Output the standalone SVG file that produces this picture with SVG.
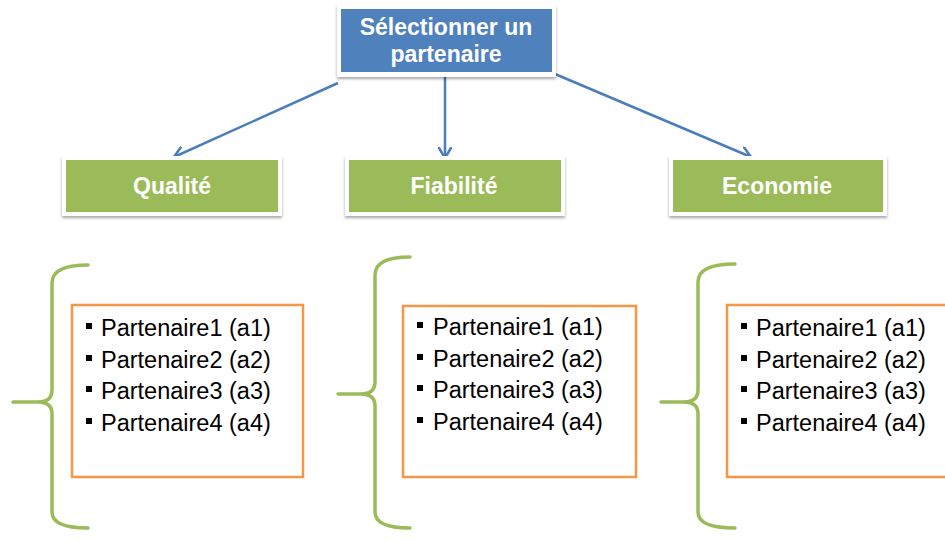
<svg xmlns="http://www.w3.org/2000/svg" width="945" height="541" viewBox="0 0 945 541">
<defs>
<style>
.frame{fill:#ffffff;filter:url(#sh)}
.blue{fill:#4f81bd}
.green{fill:#9bbb59}
.hdr{font-family:"Liberation Sans",Arial,sans-serif;font-weight:bold;font-size:23px;fill:#ffffff;text-anchor:middle}
.conn{stroke:#4a7ebb;stroke-width:2.5;fill:none;marker-end:url(#ah)}
.brace{stroke:#9bbb59;stroke-width:3.5;fill:none;stroke-linecap:round;stroke-linejoin:round}
.list{fill:#ffffff;stroke:#f79646;stroke-width:2.5}
.item{font-family:"Liberation Sans",Arial,sans-serif;font-size:23.5px;fill:#000000}
.bul{fill:#000000}
</style>
<filter id="sh" x="-10%" y="-20%" width="120%" height="150%">
<feDropShadow dx="0" dy="2" stdDeviation="1.5" flood-color="#000000" flood-opacity="0.35"/>
</filter>
<marker id="ah" viewBox="0 0 12 14" refX="11" refY="7" markerWidth="12" markerHeight="14" markerUnits="userSpaceOnUse" orient="auto">
<path d="M1,1 L11,7 L1,13" fill="none" stroke="#4a7ebb" stroke-width="2.5" stroke-linecap="round" stroke-linejoin="round"/>
</marker>
</defs>
<rect width="945" height="541" fill="#ffffff"/>

<g id="connectors">
<line class="conn" x1="338" y1="83" x2="174" y2="157"/>
<line class="conn" x1="445" y1="75" x2="445" y2="158"/>
<line class="conn" x1="555" y1="74" x2="751" y2="157"/>
</g>

<g id="root">
<rect class="frame" x="337" y="5" width="219" height="72"/>
<rect class="blue" x="341" y="9" width="211" height="63"/>
<text class="hdr" x="446" y="35">Sélectionner un</text>
<text class="hdr" x="446" y="62">partenaire</text>
</g>

<g id="qualite">
<rect class="frame" x="62" y="156" width="220" height="60"/>
<rect class="green" x="66" y="160" width="212" height="52"/>
<text class="hdr" x="172" y="194">Qualité</text>
</g>
<g id="fiabilite">
<rect class="frame" x="345" y="156" width="220" height="60"/>
<rect class="green" x="349" y="160" width="212" height="52"/>
<text class="hdr" x="454" y="194">Fiabilité</text>
</g>
<g id="economie">
<rect class="frame" x="669" y="156" width="218" height="60"/>
<rect class="green" x="673" y="160" width="210" height="52"/>
<text class="hdr" x="777" y="194">Economie</text>
</g>

<g id="brace1">
<path class="brace" d="M88,265 Q52,265 52,283 L52,390 Q52,402 38,402 L13,402 M38,402 Q52,402 52,414 L52,512 Q52,528 88,528"/>
</g>
<g id="list1">
<rect class="list" x="72" y="305" width="231" height="172"/>
<rect class="bul" x="86" y="323" width="6" height="6"/>
<rect class="bul" x="86" y="355" width="6" height="6"/>
<rect class="bul" x="86" y="386" width="6" height="6"/>
<rect class="bul" x="86" y="418" width="6" height="6"/>
<text class="item" x="101" y="336">Partenaire1 (a1)</text>
<text class="item" x="101" y="368">Partenaire2 (a2)</text>
<text class="item" x="101" y="399">Partenaire3 (a3)</text>
<text class="item" x="101" y="431">Partenaire4 (a4)</text>
</g>

<g id="brace2">
<path class="brace" d="M410,257 Q375,257 375,275 L375,382 Q375,394 361,394 L338,394 M361,394 Q375,394 375,406 L375,512 Q375,528 410,528"/>
</g>
<g id="list2">
<rect class="list" x="403" y="306" width="233" height="171"/>
<rect class="bul" x="417" y="322" width="6" height="6"/>
<rect class="bul" x="417" y="354" width="6" height="6"/>
<rect class="bul" x="417" y="385" width="6" height="6"/>
<rect class="bul" x="417" y="417" width="6" height="6"/>
<text class="item" x="433" y="335">Partenaire1 (a1)</text>
<text class="item" x="433" y="367">Partenaire2 (a2)</text>
<text class="item" x="433" y="398">Partenaire3 (a3)</text>
<text class="item" x="433" y="430">Partenaire4 (a4)</text>
</g>

<g id="brace3">
<path class="brace" d="M735,264 Q698,264 698,282 L698,390 Q698,402 684,402 L661,402 M684,402 Q698,402 698,414 L698,512 Q698,528 735,528"/>
</g>
<g id="list3">
<rect class="list" x="727" y="305" width="230" height="172"/>
<rect class="bul" x="741" y="323" width="6" height="6"/>
<rect class="bul" x="741" y="355" width="6" height="6"/>
<rect class="bul" x="741" y="386" width="6" height="6"/>
<rect class="bul" x="741" y="418" width="6" height="6"/>
<text class="item" x="756" y="336">Partenaire1 (a1)</text>
<text class="item" x="756" y="368">Partenaire2 (a2)</text>
<text class="item" x="756" y="399">Partenaire3 (a3)</text>
<text class="item" x="756" y="431">Partenaire4 (a4)</text>
</g>
</svg>
